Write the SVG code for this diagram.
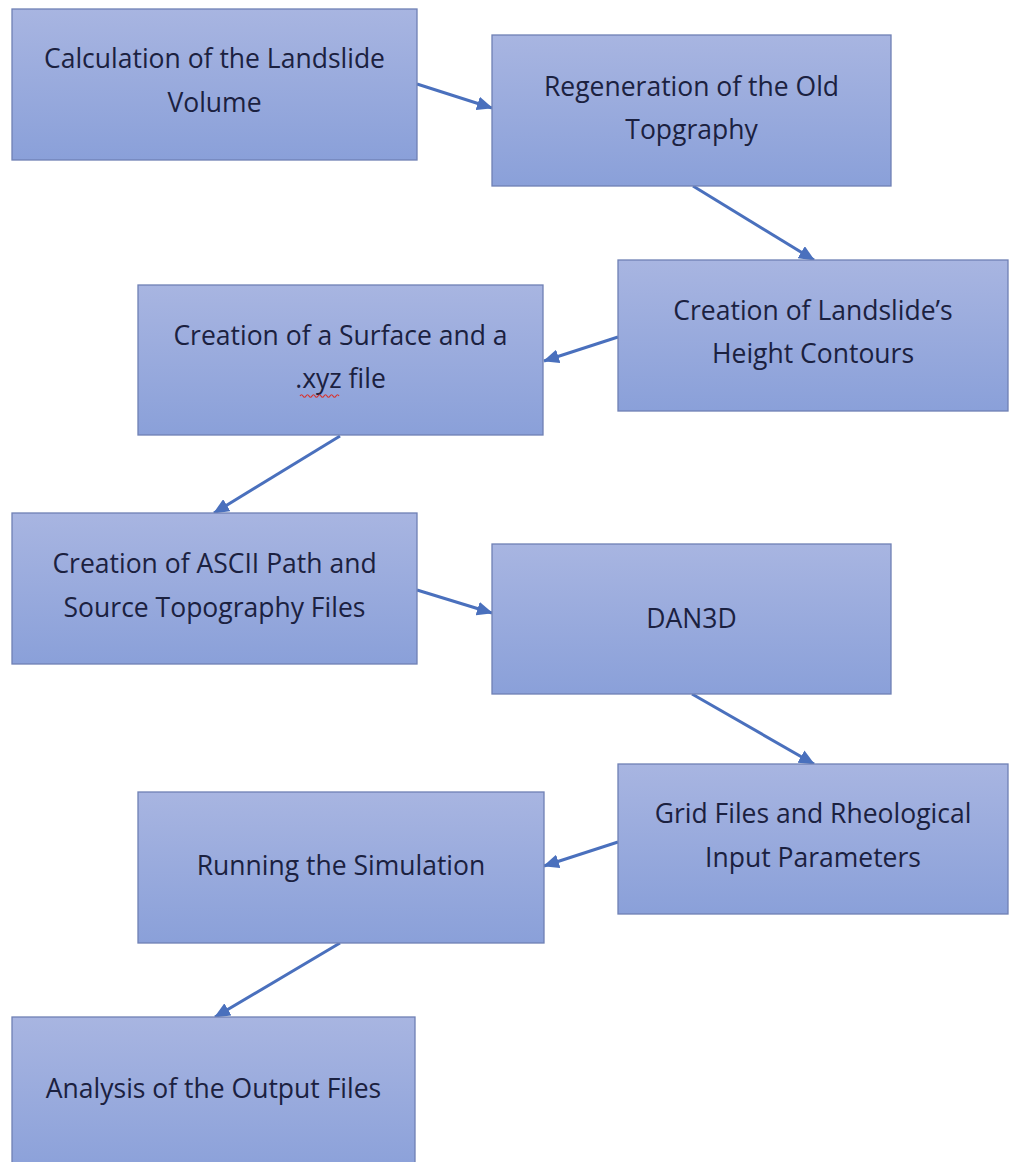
<svg xmlns="http://www.w3.org/2000/svg" width="1010" height="1162" viewBox="0 0 1010 1162">
  <defs>
    <linearGradient id="boxgrad" x1="0" y1="0" x2="0" y2="1">
      <stop offset="0" stop-color="#a8b5e1"/>
      <stop offset="1" stop-color="#8aa0d9"/>
    </linearGradient>
    <marker id="arrow" markerUnits="userSpaceOnUse" markerWidth="16" markerHeight="14" viewBox="0 0 16 14" refX="15" refY="7" orient="auto">
      <path d="M0,0 L16,7 L0,14 Z" fill="#4a70bd"/>
    </marker>
  </defs>
  <style>
    .box { fill: url(#boxgrad); stroke: #6f80b4; stroke-width: 1.3; }
    .lbl { font-family: "Open Sans", "Noto Sans", "Liberation Sans", sans-serif; font-size: 26.5px; fill: #1b2140; text-anchor: middle; }
    .conn { stroke: #4a70bd; stroke-width: 3; fill: none; marker-end: url(#arrow); }
  </style>
  <rect width="1010" height="1162" fill="#ffffff"/>

  <g id="connectors">
    <line class="conn" x1="417" y1="84" x2="492" y2="108"/>
    <line class="conn" x1="693" y1="186" x2="814" y2="260"/>
    <line class="conn" x1="618" y1="337" x2="544" y2="361"/>
    <line class="conn" x1="340" y1="436" x2="214" y2="513"/>
    <line class="conn" x1="417" y1="590" x2="492" y2="613"/>
    <line class="conn" x1="692" y1="694" x2="814" y2="764"/>
    <line class="conn" x1="618" y1="842" x2="544" y2="866"/>
    <line class="conn" x1="340" y1="943" x2="215" y2="1017"/>
  </g>

  <g id="n1">
    <rect class="box" x="12" y="9" width="405" height="151"/>
    <text class="lbl" x="214.5" y="68">Calculation of the Landslide</text>
    <text class="lbl" x="214.5" y="112">Volume</text>
  </g>
  <g id="n2">
    <rect class="box" x="492" y="35" width="399" height="151"/>
    <text class="lbl" x="691.5" y="96">Regeneration of the Old</text>
    <text class="lbl" x="691.5" y="139">Topgraphy</text>
  </g>
  <g id="n3">
    <rect class="box" x="618" y="260" width="390" height="151"/>
    <text class="lbl" x="813" y="320">Creation of Landslide’s</text>
    <text class="lbl" x="813" y="363">Height Contours</text>
  </g>
  <g id="n4">
    <rect class="box" x="138" y="285" width="405" height="150"/>
    <text class="lbl" x="340.5" y="345">Creation of a Surface and a</text>
    <text class="lbl" x="340.5" y="388">.xyz file</text>
    <path d="M300,396 q1.5,-2.5 3,0 t3,0 t3,0 t3,0 t3,0 t3,0 t3,0 t3,0 t3,0 t3,0 t3,0 t3,0 t3,0" fill="none" stroke="#d9322b" stroke-width="1.2"/>
  </g>
  <g id="n5">
    <rect class="box" x="12" y="513" width="405" height="151"/>
    <text class="lbl" x="214.5" y="573">Creation of ASCII Path and</text>
    <text class="lbl" x="214.5" y="617">Source Topography Files</text>
  </g>
  <g id="n6">
    <rect class="box" x="492" y="544" width="399" height="150"/>
    <text class="lbl" x="691.5" y="628">DAN3D</text>
  </g>
  <g id="n7">
    <rect class="box" x="618" y="764" width="390" height="150"/>
    <text class="lbl" x="813" y="823">Grid Files and Rheological</text>
    <text class="lbl" x="813" y="867">Input Parameters</text>
  </g>
  <g id="n8">
    <rect class="box" x="138" y="792" width="406" height="151"/>
    <text class="lbl" x="341" y="875">Running the Simulation</text>
  </g>
  <g id="n9">
    <rect class="box" x="12" y="1017" width="403" height="160"/>
    <text class="lbl" x="213.5" y="1098">Analysis of the Output Files</text>
  </g>
</svg>
